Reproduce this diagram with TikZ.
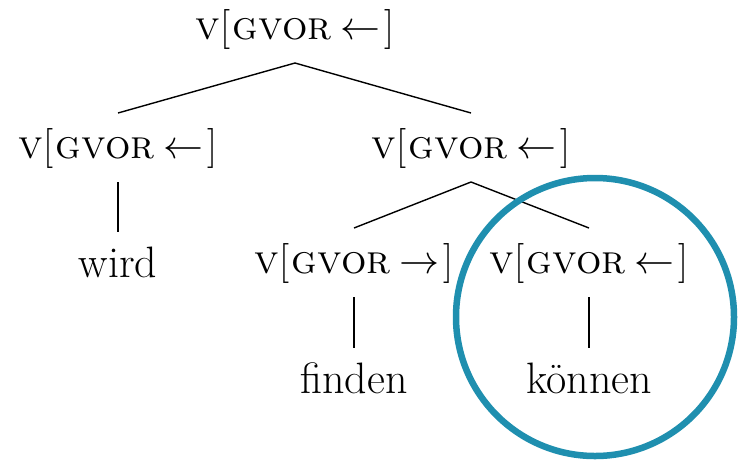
\documentclass[tikz,border=0pt]{standalone}
\usepackage{amsmath}
\DeclareFontShape{OMS}{cmsy}{m}{n}{<->cmsy10}{}
\DeclareFontShape{OMX}{cmex}{m}{n}{<->cmex10}{}
\definecolor{ringblue}{RGB}{31,143,175}
\newcommand\fslab[1]{\textsc{v}\kern1pt[\kern2pt\textsc{gvor}\kern9pt$#1$\kern4pt]}
\begin{document}
\begin{tikzpicture}[x=1pt,y=-1pt,
  lab/.style={anchor=base,inner sep=0pt,text height=28pt,text depth=7pt,outer ysep=17pt,outer xsep=0pt,font=\fontsize{40}{46}\selectfont},
  word/.style={anchor=base,inner sep=0pt,text height=28pt,text depth=7pt,outer ysep=17pt,outer xsep=0pt,font=\fontsize{44}{50}\selectfont},
  edge/.style={line width=1.4pt}]
\useasboundingbox (0,0) rectangle (738,459);
\node[lab] (top) at (295,39) {\fslab{\leftarrow}};
\node[lab] (l) at (118,158) {\fslab{\leftarrow}};
\node[lab] (r) at (471,158) {\fslab{\leftarrow}};
\node[word] (wird) at (118,277) {wird};
\node[lab] (rl) at (354,273) {\fslab{\rightarrow}};
\node[lab] (rr) at (589,273) {\fslab{\leftarrow}};
\node[word] (finden) at (354,393) {finden};
\node[word] (koennen) at (589,393) {können};
\draw[edge] (top.south) -- (l.north);
\draw[edge] (top.south) -- (r.north);
\draw[edge] (l.south) -- (wird.north);
\draw[edge] (r.south) -- (rl.north);
\draw[edge] (r.south) -- (rr.north);
\draw[edge] (rl.south) -- (finden.north);
\draw[edge] (rr.south) -- (koennen.north);
\node[draw=ringblue,line width=6.5pt,circle,minimum size=278pt,inner sep=0pt,outer sep=0pt] (ring) at (595,317) {};
\end{tikzpicture}
\end{document}
